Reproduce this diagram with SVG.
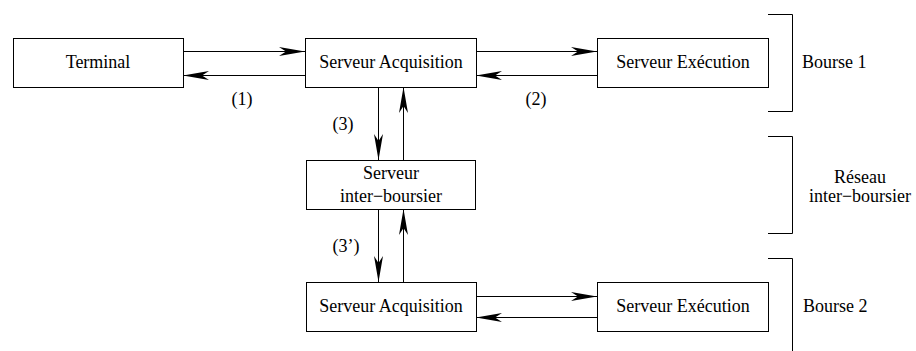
<svg xmlns="http://www.w3.org/2000/svg" width="916" height="351" viewBox="0 0 916 351">
<style>
.box{fill:#fff;stroke:#000;stroke-width:1}
.ln{fill:none;stroke:#000;stroke-width:1}
.t{font-family:'Liberation Serif','Times New Roman',Times,Tinos,'DejaVu Serif',serif;font-size:18px;fill:#000}
.c{text-anchor:middle}
</style>
<defs>
<marker id="ah" markerUnits="userSpaceOnUse" markerWidth="28" markerHeight="12" viewBox="-26 -5 28 10" refX="0" refY="0" orient="auto">
<path d="M0,0 L-26,-4.5 L-19,0 L-26,4.5 Z" fill="#000"/>
</marker>
</defs>
<rect width="916" height="351" fill="#fff"/>
<g id="connectors">
<line class="ln" x1="183" y1="51.5" x2="305" y2="51.5" marker-end="url(#ah)"/>
<line class="ln" x1="305" y1="75.5" x2="183" y2="75.5" marker-end="url(#ah)"/>
<line class="ln" x1="476" y1="51.5" x2="597" y2="51.5" marker-end="url(#ah)"/>
<line class="ln" x1="597" y1="75.5" x2="476" y2="75.5" marker-end="url(#ah)"/>
<line class="ln" x1="378.5" y1="87" x2="378.5" y2="160" marker-end="url(#ah)"/>
<line class="ln" x1="403.5" y1="160" x2="403.5" y2="87" marker-end="url(#ah)"/>
<line class="ln" x1="378.5" y1="209" x2="378.5" y2="282" marker-end="url(#ah)"/>
<line class="ln" x1="403.5" y1="282" x2="403.5" y2="209" marker-end="url(#ah)"/>
<line class="ln" x1="476" y1="296.5" x2="597" y2="296.5" marker-end="url(#ah)"/>
<line class="ln" x1="597" y1="317.5" x2="476" y2="317.5" marker-end="url(#ah)"/>
<text x="242" y="105" class="t c">(1)</text>
<text x="536" y="105" class="t c">(2)</text>
<text x="343" y="130" class="t c">(3)</text>
<text x="346" y="252" class="t c">(3’)</text>
</g>
<g id="terminal">
<rect class="box" x="13.5" y="38.5" width="170" height="49"/>
<text x="98" y="68" class="t c">Terminal</text>
</g>
<g id="acq1">
<rect class="box" x="305.5" y="38.5" width="171" height="49"/>
<text x="391" y="68" class="t c">Serveur Acquisition</text>
</g>
<g id="exec1">
<rect class="box" x="597.5" y="38.5" width="171" height="49"/>
<text x="683" y="68" class="t c">Serveur Exécution</text>
</g>
<g id="inter">
<rect class="box" x="306.5" y="160.5" width="169" height="49"/>
<text x="391" y="179" class="t c">Serveur</text>
<text x="391" y="202" class="t c">inter−boursier</text>
</g>
<g id="acq2">
<rect class="box" x="306.5" y="282.5" width="170" height="49"/>
<text x="391" y="312" class="t c">Serveur Acquisition</text>
</g>
<g id="exec2">
<rect class="box" x="597.5" y="282.5" width="171" height="49"/>
<text x="683" y="312" class="t c">Serveur Exécution</text>
</g>
<g id="bourse1">
<path class="ln" d="M768,14.5 H792.5 V111.5 H768"/>
<text x="802" y="68" class="t">Bourse 1</text>
</g>
<g id="reseau">
<path class="ln" d="M768,136.5 H792.5 V233.5 H768"/>
<text x="860" y="183" class="t c">Réseau</text>
<text x="860" y="202" class="t c">inter−boursier</text>
</g>
<g id="bourse2">
<path class="ln" d="M768,258.5 H792.5 V351"/>
<text x="803" y="312" class="t">Bourse 2</text>
</g>
</svg>
